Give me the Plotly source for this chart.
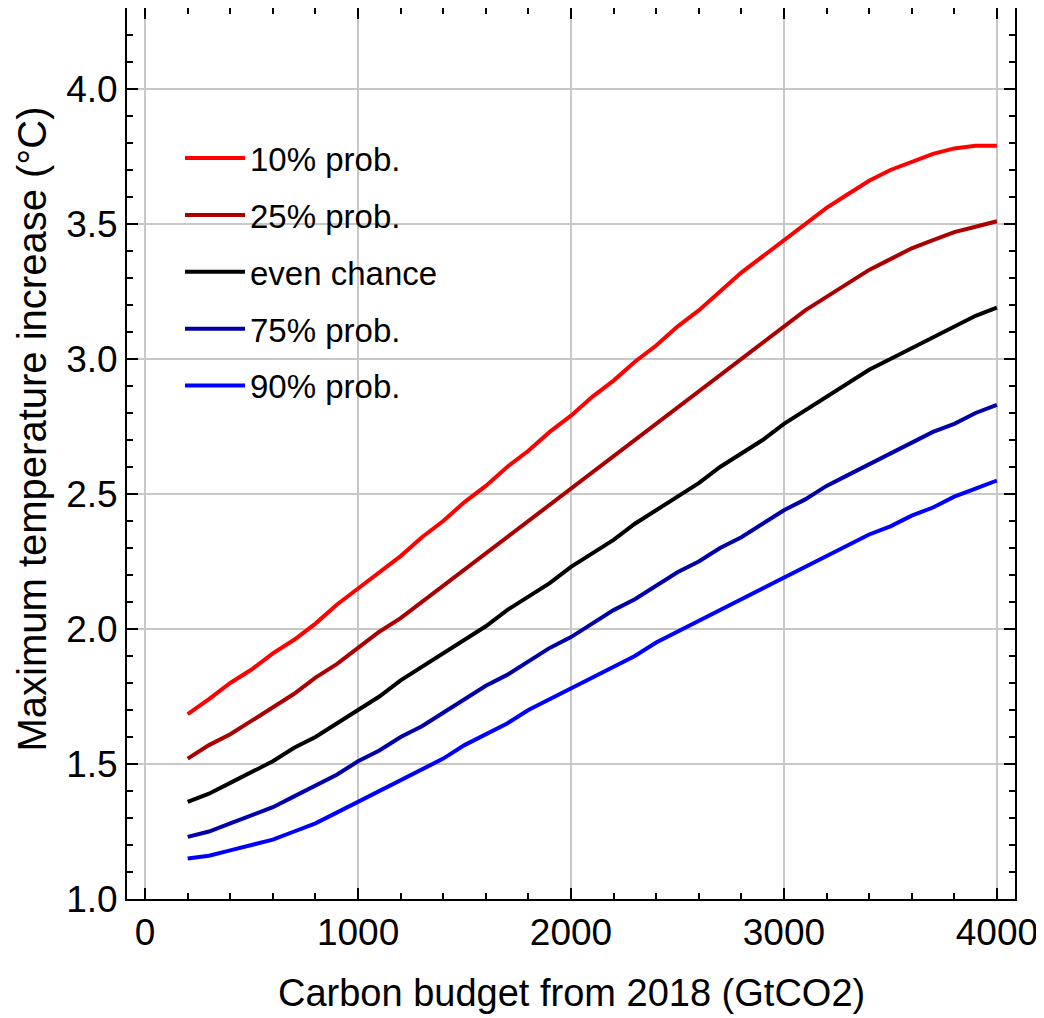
import plotly.graph_objects as go

budget = list(range(200, 4001, 100))

p10 = [1.685, 1.74, 1.80, 1.85, 1.91, 1.96, 2.02, 2.09, 2.15, 2.21, 2.27, 2.34, 2.40, 2.47, 2.53,
       2.60, 2.66, 2.73, 2.79, 2.86, 2.92, 2.99, 3.05, 3.12, 3.18, 3.25, 3.32, 3.38, 3.44, 3.50,
       3.56, 3.61, 3.66, 3.70, 3.73, 3.76, 3.78, 3.79, 3.79]
p25 = [1.52, 1.57, 1.61, 1.66, 1.71, 1.76, 1.82, 1.87, 1.93, 1.99, 2.04, 2.10, 2.16, 2.22, 2.28,
       2.34, 2.40, 2.46, 2.52, 2.58, 2.64, 2.70, 2.76, 2.82, 2.88, 2.94, 3.00, 3.06, 3.12, 3.18,
       3.23, 3.28, 3.33, 3.37, 3.41, 3.44, 3.47, 3.49, 3.51]
p50 = [1.36, 1.39, 1.43, 1.47, 1.51, 1.56, 1.60, 1.65, 1.70, 1.75, 1.81, 1.86, 1.91, 1.96, 2.01,
       2.07, 2.12, 2.17, 2.23, 2.28, 2.33, 2.39, 2.44, 2.49, 2.54, 2.60, 2.65, 2.70, 2.76, 2.81,
       2.86, 2.91, 2.96, 3.00, 3.04, 3.08, 3.12, 3.16, 3.19]
p75 = [1.23, 1.25, 1.28, 1.31, 1.34, 1.38, 1.42, 1.46, 1.51, 1.55, 1.60, 1.64, 1.69, 1.74, 1.79,
       1.83, 1.88, 1.93, 1.97, 2.02, 2.07, 2.11, 2.16, 2.21, 2.25, 2.30, 2.34, 2.39, 2.44, 2.48,
       2.53, 2.57, 2.61, 2.65, 2.69, 2.73, 2.76, 2.80, 2.83]
p90 = [1.15, 1.16, 1.18, 1.20, 1.22, 1.25, 1.28, 1.32, 1.36, 1.40, 1.44, 1.48, 1.52, 1.57, 1.61,
       1.65, 1.70, 1.74, 1.78, 1.82, 1.86, 1.90, 1.95, 1.99, 2.03, 2.07, 2.11, 2.15, 2.19, 2.23,
       2.27, 2.31, 2.35, 2.38, 2.42, 2.45, 2.49, 2.52, 2.55]

series_names = ["10% prob.", "25% prob.", "even chance", "75% prob.", "90% prob."]
series_values = [p10, p25, p50, p75, p90]
series_colors = ["#FF0000", "#AA0000", "#000000", "#0000AA", "#0000FF"]

x_title = "Carbon budget from 2018 (GtCO2)"
y_title = "Maximum temperature increase (°C)"

fig = go.Figure()
for i, (name, vals, col) in enumerate(zip(series_names, series_values, series_colors)):
    fig.add_trace(go.Scatter(x=budget, y=vals, mode="lines", name=name,
                             legendgroup=f"g{i}",
                             line=dict(color=col, width=4)))

font_family = "Liberation Sans, Arial, sans-serif"
axis_common = dict(
    showline=True, linecolor="black", linewidth=2, mirror="allticks",
    ticks="inside", ticklen=11, tickwidth=2, tickcolor="black",
    showgrid=True, gridcolor="#c8c8c8", gridwidth=1.5,
    zeroline=False, automargin=False,
    tickfont=dict(family=font_family, size=37, color="black"),
)

fig.update_layout(
    width=1036, height=1010,
    margin=dict(l=119, r=29, t=0, b=119),
    plot_bgcolor="white", paper_bgcolor="white",
    font=dict(family=font_family, color="black"),
    xaxis=dict(range=[-85, 4085], tickvals=[0, 1000, 2000, 3000, 4000],
               minor=dict(dtick=200, tick0=0, ticks="inside", ticklen=6, tickwidth=2,
                          tickcolor="black", showgrid=False),
               **axis_common),
    yaxis=dict(range=[1.0, 4.3], tickvals=[1.0, 1.5, 2.0, 2.5, 3.0, 3.5, 4.0], tickformat=".1f",
               minor=dict(dtick=0.1, tick0=1.0, ticks="inside", ticklen=6, tickwidth=2,
                          tickcolor="black", showgrid=False),
               **axis_common),
    legend=dict(x=0.0597, y=0.863, xanchor="left", yanchor="top",
                bgcolor="rgba(0,0,0,0)", tracegroupgap=11, itemwidth=60,
                font=dict(family=font_family, size=33, color="black")),
    showlegend=True,
    annotations=[
        dict(text=x_title, xref="paper", yref="paper", x=0.5, y=-0.1055,
             xanchor="center", yanchor="middle", showarrow=False,
             font=dict(family=font_family, size=38, color="black")),
        dict(text=y_title, xref="paper", yref="paper", x=-0.1075, y=0.5275,
             xanchor="center", yanchor="middle", showarrow=False, textangle=-90,
             font=dict(family=font_family, size=40, color="black")),
    ],
)

fig.write_html("out.html")
